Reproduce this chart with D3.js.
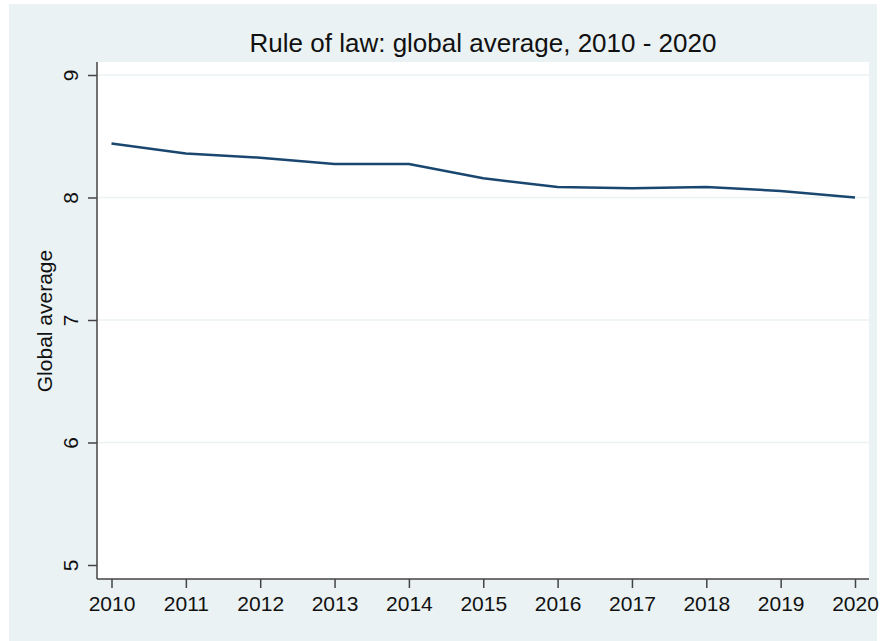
<!DOCTYPE html>
<html>
<head>
<meta charset="utf-8">
<script src="https://cdn.jsdelivr.net/npm/d3@7"></script>
<style>
  html, body { margin: 0; padding: 0; background: #ffffff; }
  svg { display: block; }
  text { font-family: "Liberation Sans", Arial, Helvetica, sans-serif; fill: #111; }
</style>
</head>
<body>
<svg id="chart" width="880" height="641"></svg>
<script>
const years = [2010, 2011, 2012, 2013, 2014, 2015, 2016, 2017, 2018, 2019, 2020];
const globalAverage = [8.44, 8.36, 8.325, 8.273, 8.273, 8.157, 8.086, 8.075, 8.086, 8.053, 8.0];
const yTicks = [5, 6, 7, 8, 9];
const gridTicks = [6, 7, 8, 9];
const titleText = "Rule of law: global average, 2010 - 2020";
const yTitle = "Global average";

const svg = d3.select("#chart");
const W = 880, H = 641;

// outer panel
svg.append("rect").attr("x", 9).attr("y", 4).attr("width", 868).attr("height", H - 4)
  .attr("fill", "#eaf2f3");

const plot = { left: 97, top: 62, right: 869, bottom: 579 };
svg.append("rect").attr("x", plot.left).attr("y", plot.top)
  .attr("width", plot.right - plot.left).attr("height", plot.bottom - plot.top)
  .attr("fill", "#ffffff");

const x = d3.scaleLinear().domain([2010, 2020]).range([111.5, 855]);
const y = d3.scaleLinear().domain([5, 9]).range([565, 75]);

// gridlines
svg.append("g").selectAll("line").data(gridTicks).join("line")
  .attr("x1", plot.left).attr("x2", plot.right)
  .attr("y1", d => y(d)).attr("y2", d => y(d))
  .attr("stroke", "#eaf2f3").attr("stroke-width", 1.5);

// line
const lineGen = d3.line().x((d, i) => x(years[i])).y(d => y(d));
svg.append("path").datum(globalAverage)
  .attr("d", lineGen)
  .attr("fill", "none").attr("stroke", "#1a476f").attr("stroke-width", 2.5)
  .attr("stroke-linejoin", "round");

// y axis
const yAxis = d3.axisLeft(y).tickValues(yTicks).tickSize(9).tickPadding(10).tickFormat(d3.format("d"));
const gy = svg.append("g").attr("transform", `translate(${plot.left},0)`).call(yAxis);
gy.select(".domain").attr("d", `M0,${plot.top}V${plot.bottom}`).attr("stroke", "#444").attr("stroke-width", 1.5);
gy.selectAll(".tick line").attr("stroke", "#444").attr("stroke-width", 1.5);
gy.selectAll(".tick text")
  .attr("font-size", 21).attr("fill", "#111")
  .attr("text-anchor", "middle")
  .attr("x", null).attr("dy", null)
  .attr("transform", "translate(-19,0) rotate(-90)");

// x axis
const xAxis = d3.axisBottom(x).tickValues(years).tickSize(9).tickPadding(8).tickFormat(d3.format("d"));
const gx = svg.append("g").attr("transform", `translate(0,${plot.bottom})`).call(xAxis);
gx.select(".domain").attr("d", `M${plot.left},0H${plot.right}`).attr("stroke", "#444").attr("stroke-width", 1.5);
gx.selectAll(".tick line").attr("stroke", "#444").attr("stroke-width", 1.5);
gx.selectAll(".tick text").attr("font-size", 21).attr("fill", "#111");

// titles
svg.append("text").attr("x", (plot.left + plot.right) / 2).attr("y", 52)
  .attr("text-anchor", "middle").attr("font-size", 26).attr("fill", "#111").text(titleText);

svg.append("text").attr("transform", `translate(52,321) rotate(-90)`)
  .attr("text-anchor", "middle").attr("font-size", 21).attr("fill", "#111").text(yTitle);
</script>
</body>
</html>
